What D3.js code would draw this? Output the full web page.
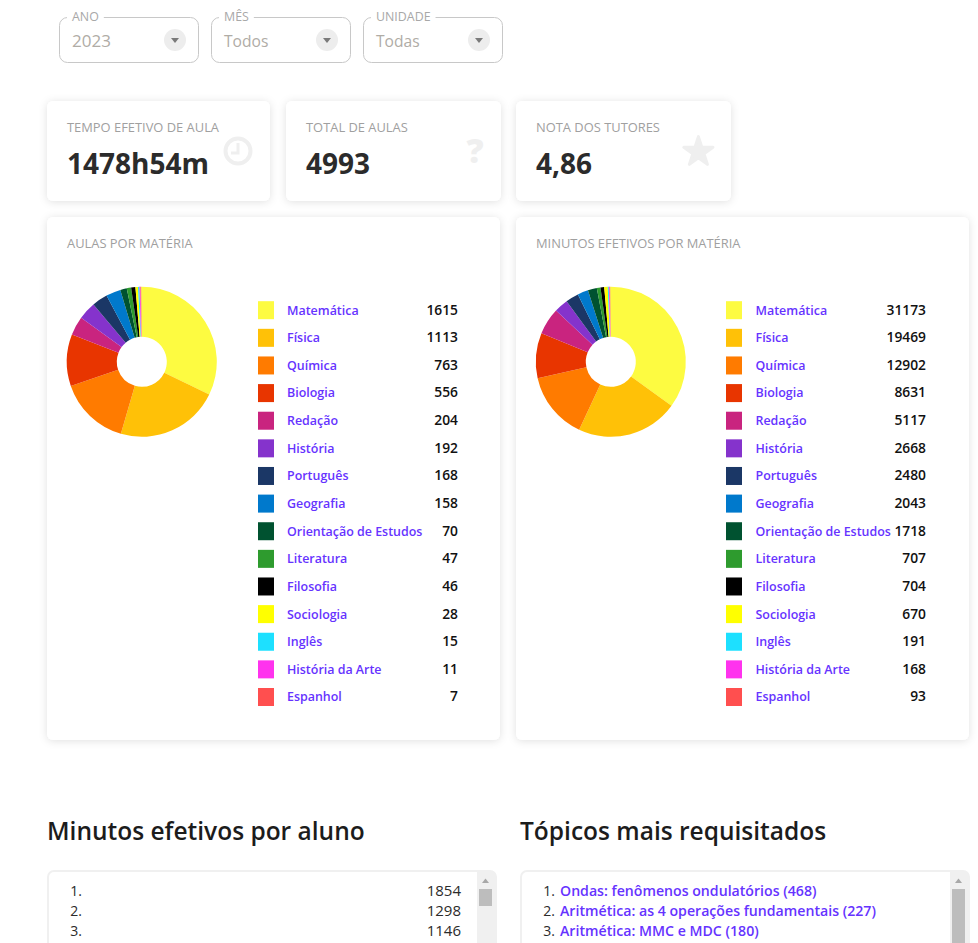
<!DOCTYPE html>
<html><head><meta charset="utf-8">
<script src="https://cdn.jsdelivr.net/npm/d3@7/dist/d3.min.js"></script>
<style>
html,body{margin:0;padding:0;background:#fff;overflow:hidden}
svg{display:block}
text{font-family:"Open Sans","Noto Sans",sans-serif}
</style></head><body>
<svg id="c" width="978" height="943"></svg>
<script>
const materias = ["Matemática","Física","Química","Biologia","Redação","História","Português","Geografia","Orientação de Estudos","Literatura","Filosofia","Sociologia","Inglês","História da Arte","Espanhol"];
const aulas = [1615,1113,763,556,204,192,168,158,70,47,46,28,15,11,7];
const minutos = [31173,19469,12902,8631,5117,2668,2480,2043,1718,707,704,670,191,168,93];
const cores = ["#FDFB41","#FFC107","#FF7B00","#E83500","#C9247F","#8533CC","#1B3766","#0079CC","#005230","#2E9B2E","#000000","#FFFF00","#1DE0FF","#FF33EE","#FF4F4F"];
const filtros = [["ANO","2023"],["MÊS","Todos"],["UNIDADE","Todas"]];
const stats = [["TEMPO EFETIVO DE AULA","1478h54m"],["TOTAL DE AULAS","4993"],["NOTA DOS TUTORES","4,86"]];
const alunos = [1854,1298,1146];
const topicos = ["Ondas: fenômenos ondulatórios (468)","Aritmética: as 4 operações fundamentais (227)","Aritmética: MMC e MDC (180)"];

const svg = d3.select("#c");
const defs = svg.append("defs");
const f = defs.append("filter").attr("id","sh").attr("x","-10%").attr("y","-10%").attr("width","120%").attr("height","120%");
f.append("feDropShadow").attr("dx",0).attr("dy",1).attr("stdDeviation",4).attr("flood-color","#000").attr("flood-opacity",.12);

const purple="#6633FF", ink="#2b2b2b", grey="#a0a0a0";

// filters
const fx=[59,211,363];
filtros.forEach((d,i)=>{
  const g=svg.append("g").attr("transform",`translate(${fx[i]},17)`);
  g.append("rect").attr("x",.5).attr("y",.5).attr("width",139).attr("height",45).attr("rx",8).attr("fill","#fff").attr("stroke","#c8c8c8");
  const lab=g.append("text").attr("x",13).attr("y",4).attr("font-size",12.4).attr("fill","#a8a8a8").text(d[0]);
  const w=lab.node().getComputedTextLength();
  g.insert("rect","text").attr("x",8).attr("y",-2).attr("width",w+10).attr("height",5).attr("fill","#fff");
  g.append("text").attr("x",13).attr("y",30).attr("font-size",i===0?17:15.6).attr("fill","#b0aca6").text(d[1]);
  g.append("circle").attr("cx",116).attr("cy",23).attr("r",11).attr("fill","#ededed");
  g.append("path").attr("d","M112,21L120,21L116,26Z").attr("fill","#7a7a7a");
});

function card(x,y,w,h){
  svg.append("rect").attr("x",x).attr("y",y).attr("width",w).attr("height",h).attr("rx",6).attr("fill","#fff").attr("filter","url(#sh)");
}
// stat cards
const sx=[47,286,516], sw=[223,215,215];
stats.forEach((d,i)=>{
  card(sx[i],101,sw[i],100);
  svg.append("text").attr("x",sx[i]+20).attr("y",132).attr("font-size",12.9).attr("fill",grey).text(d[0]);
  svg.append("text").attr("x",sx[i]+20).attr("y",173.5).attr("font-size",28).attr("font-weight",700).attr("fill",ink).text(d[1]);
});
const ic="#efefef";
svg.append("circle").attr("cx",238).attr("cy",151).attr("r",12.5).attr("fill","none").attr("stroke",ic).attr("stroke-width",4);
svg.append("path").attr("d","M238,143V153H231").attr("fill","none").attr("stroke",ic).attr("stroke-width",3);
svg.append("text").attr("x",475).attr("y",163).attr("text-anchor","middle").attr("font-size",34).attr("font-weight",800).attr("fill",ic).text("?");
svg.append("path").attr("transform","translate(698.4,152)").attr("d",d3.symbol(d3.symbolStar,264)()).attr("fill",ic).attr("stroke",ic).attr("stroke-width",3).attr("stroke-linejoin","round");

// pie panels
const arc=d3.arc().innerRadius(25).outerRadius(75);
const rot=-0.5*Math.PI/180;
const pie=d3.pie().sort(null).startAngle(rot).endAngle(2*Math.PI+rot);
const rowY=d3.scalePoint().domain(materias).range([310.2,697]);
function painel(x0,titulo,valores,cx,xSw,xLab,xVal){
  card(x0,217,453,523);
  svg.append("text").attr("x",x0+20).attr("y",248).attr("font-size",12.9).attr("fill",grey).text(titulo);
  const g=svg.append("g").attr("transform",`translate(${cx},361.8)`);
  g.selectAll("path").data(pie(valores)).join("path").attr("d",arc).attr("fill",(d,i)=>cores[i]);
  const r=svg.append("g").selectAll("g").data(materias).join("g").attr("transform",d=>`translate(0,${rowY(d)})`);
  r.append("rect").attr("x",xSw).attr("y",-9).attr("width",16).attr("height",18).attr("fill",(d,i)=>cores[i]);
  r.append("text").attr("x",xLab).attr("y",4.4).attr("font-size",12.45).attr("font-weight",600).attr("fill",purple).text(d=>d);
  r.append("text").attr("x",xVal).attr("y",4.4).attr("text-anchor","end").attr("font-size",13.8).attr("font-weight",600).attr("fill","#111").text((d,i)=>valores[i]);
}
painel(47,"AULAS POR MATÉRIA",aulas,141.8,258,287,458);
painel(516,"MINUTOS EFETIVOS POR MATÉRIA",minutos,610.8,726,755.5,926);

// lists
svg.append("text").attr("x",47).attr("y",839.5).attr("font-size",24.5).attr("font-weight",600).attr("fill","#1c1c1c").text("Minutos efetivos por aluno");
svg.append("text").attr("x",520).attr("y",839.5).attr("font-size",24.5).attr("font-weight",600).attr("fill","#1c1c1c").text("Tópicos mais requisitados");
[[47,17],[520,70]].forEach(([x,th])=>{
  svg.append("rect").attr("x",x+1).attr("y",871).attr("width",448).attr("height",90).attr("rx",6).attr("fill","#fff").attr("stroke","#f0f0f0").attr("stroke-width",2);
  svg.append("path").attr("d",`M${x+430},871H${x+443}a6,6 0 0 1 6,6V960H${x+430}Z`).attr("fill","#f0f0f0");
  svg.append("path").attr("d",`M${x+438.5},878.5l-3.5,4.5h7z`).attr("fill","#a8a8a8");
  svg.append("rect").attr("x",x+432).attr("y",889).attr("width",13).attr("height",th).attr("fill","#bdbdbd");
});
const ly=d3.scalePoint().domain([0,1,2]).range([896,936]);
alunos.forEach((v,i)=>{
  svg.append("text").attr("x",82).attr("y",ly(i)).attr("text-anchor","end").attr("font-size",14).attr("font-weight",500).attr("fill",ink).text(`${i+1}.`);
  svg.append("text").attr("x",461).attr("y",ly(i)).attr("text-anchor","end").attr("font-size",15).attr("font-weight",500).attr("fill",ink).text(v);
});
topicos.forEach((t,i)=>{
  svg.append("text").attr("x",555).attr("y",ly(i)).attr("text-anchor","end").attr("font-size",14).attr("font-weight",500).attr("fill",ink).text(`${i+1}.`);
  svg.append("text").attr("x",560).attr("y",ly(i)).attr("font-size",14.15).attr("font-weight",600).attr("fill",purple).text(t);
});
</script></body></html>
